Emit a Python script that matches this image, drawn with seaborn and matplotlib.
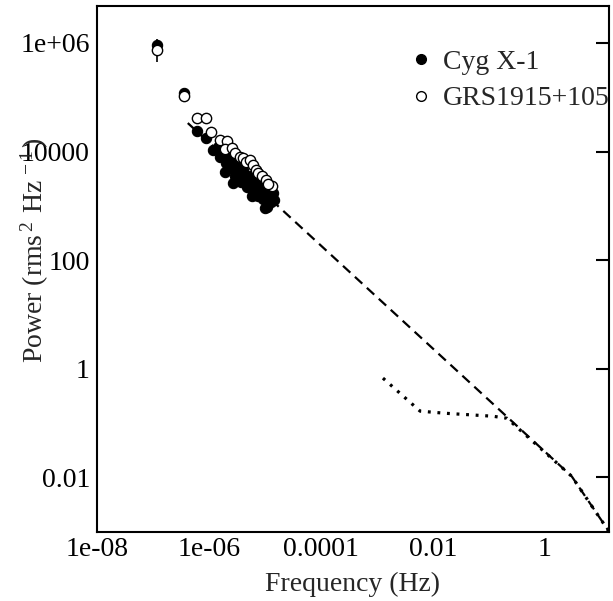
import numpy as np
import pandas as pd
import matplotlib
matplotlib.use("Agg")
import matplotlib.pyplot as plt
import seaborn as sns
from matplotlib.lines import Line2D

# ---- data ----
cyg_freq = [1.18e-7, 3.58e-7, 6.1e-7, 8.8e-7, 1.18e-6, 1.45e-6, 1.57e-6, 1.85e-6, 2.01e-6,
            2.28e-6, 2.47e-6, 2.68e-6, 2.91e-6, 3.16e-6, 3.43e-6, 3.73e-6, 4.05e-6, 4.4e-6,
            4.77e-6, 5.18e-6, 5.62e-6, 6.1e-6, 6.37e-6, 6.9e-6, 7.5e-6, 7.8e-6, 8.5e-6,
            9.2e-6, 9.6e-6, 1.04e-5, 1.09e-5, 1.13e-5, 1.23e-5, 1.28e-5, 1.39e-5, 1.45e-5,
            1.93e-6, 2.68e-6, 5.86e-6, 1.0e-5]
cyg_power = [9.2e5, 1.2e5, 2.39e4, 1.77e4, 1.07e4, 1.21e4, 7.9e3, 9.4e3, 6.1e3,
             7.6e3, 5.0e3, 6.4e3, 3.53e3, 5.4e3, 4.2e3, 2.74e3, 4.6e3, 3.25e3,
             2.22e3, 3.53e3, 2.52e3, 1.79e3, 3.25e3, 2.12e3, 1.51e3, 2.74e3, 1.95e3,
             1.33e3, 2.31e3, 1.65e3, 950, 2.12e3, 1.45e3, 1.17e3, 1.72e3, 1.28e3,
             4.2e3, 2.62e3, 1.51e3, 910]

grs_freq = [1.18e-7, 3.58e-7, 6.1e-7, 8.8e-7, 1.09e-6, 1.57e-6, 2.1e-6, 1.93e-6, 2.57e-6,
            2.91e-6, 3.58e-6, 4.05e-6, 4.58e-6, 5.4e-6, 6.1e-6, 6.9e-6, 7.5e-6, 8.84e-6,
            1.04e-5, 1.33e-5, 1.13e-5]
grs_power = [7.4e5, 1.05e5, 4.15e4, 4.15e4, 2.29e4, 1.63e4, 1.56e4, 1.11e4, 1.16e4,
             9.4e3, 7.9e3, 7.6e3, 6.4e3, 7.0e3, 5.6e3, 4.6e3, 4.0e3, 3.53e3,
             3.0e3, 2.31e3, 2.52e3]
grs_err_freq = [1.18e-7]
grs_err_low = [4.5e5]
grs_err_high = [1.2e6]

dash_freq = [4.2e-7, 3.0, 13.9]
dash_power = [3.35e4, 0.0104, 1.0e-3]

dot_freq = [1.28e-3, 5.9e-3, 0.0164, 0.118, 0.21, 3.0, 13.9]
dot_power = [0.67, 0.165, 0.151, 0.133, 0.122, 0.0104, 1.0e-3]

xticks = [1e-8, 1e-6, 1e-4, 1e-2, 1]
xticklabels = ["1e-08", "1e-06", "0.0001", "0.01", "1"]
yticks = [1e-2, 1, 1e2, 1e4, 1e6]
yticklabels = ["0.01", "1", "100", "10000", "1e+06"]

# ---- style ----
sns.set_theme(style="white")
plt.rcParams["font.family"] = ["Liberation Serif", "DejaVu Serif"]
plt.rcParams["mathtext.fontset"] = "custom"
plt.rcParams["mathtext.rm"] = "Liberation Serif"
plt.rcParams["mathtext.it"] = "Liberation Serif:italic"

fig = plt.figure(figsize=(6.13, 6.01), dpi=100)
ax = fig.add_axes([0.158, 0.1156, 0.8355, 0.8752])
ax.set_xscale("log")
ax.set_yscale("log")

dash_df = pd.DataFrame({"f": dash_freq, "p": dash_power})
dot_df = pd.DataFrame({"f": dot_freq, "p": dot_power})
sns.lineplot(data=dash_df, x="f", y="p", ax=ax, color="black", lw=1.6,
             sort=False, estimator=None, dashes=False, zorder=2)
ax.lines[-1].set_dashes((4.5, 2.8))
sns.lineplot(data=dot_df, x="f", y="p", ax=ax, color="black", lw=2.3,
             sort=False, estimator=None, zorder=2)
ax.lines[-1].set_linestyle((0, (0.9, 2.1)))

# error bar on first GRS point
ax.vlines(grs_err_freq, grs_err_low, grs_err_high, color="black", lw=1.2, zorder=3)

cyg_df = pd.DataFrame({"f": cyg_freq, "p": cyg_power})
grs_df = pd.DataFrame({"f": grs_freq, "p": grs_power})
sns.scatterplot(data=cyg_df, x="f", y="p", ax=ax, color="black", edgecolor="black",
                s=55, linewidth=0.8, zorder=4)
sns.scatterplot(data=grs_df, x="f", y="p", ax=ax, color="white", edgecolor="black",
                s=55, linewidth=1.0, zorder=5)

ax.set_xlim(1e-8, 13.9)
ax.set_ylim(1e-3, 4.9e6)
ax.set_xticks(xticks)
ax.set_xticklabels(xticklabels)
ax.set_yticks(yticks)
ax.set_yticklabels(yticklabels)
ax.minorticks_off()
ax.tick_params(axis="both", which="major", direction="in", length=9.5, width=1.5,
               labelsize=20, colors="black")
ax.tick_params(axis="x", pad=4, top=False)
ax.tick_params(axis="y", pad=5, right=True)

for s in ax.spines.values():
    s.set_linewidth(1.5)
    s.set_color("black")

ax.set_xlabel("Frequency (Hz)", fontsize=20, labelpad=7)
ax.set_ylabel(r"Power (rms$^{\,2\,}$ Hz$^{\,-1\,}$)", fontsize=20)
ax.yaxis.set_label_coords(-0.09, 0.535)

handles = [
    Line2D([], [], marker="o", color="black", linestyle="none", markersize=7,
           markerfacecolor="black", markeredgecolor="black"),
    Line2D([], [], marker="o", color="black", linestyle="none", markersize=7,
           markerfacecolor="white", markeredgecolor="black", markeredgewidth=1.0),
]
ax.legend(handles, ["Cyg X-1", "GRS1915+105"], loc="upper left",
          bbox_to_anchor=(0.605, 0.916), frameon=False, fontsize=20,
          handlelength=1.0, handletextpad=0.3, labelspacing=0.39,
          borderpad=0, borderaxespad=0)

fig.savefig("out.png", dpi=100)
